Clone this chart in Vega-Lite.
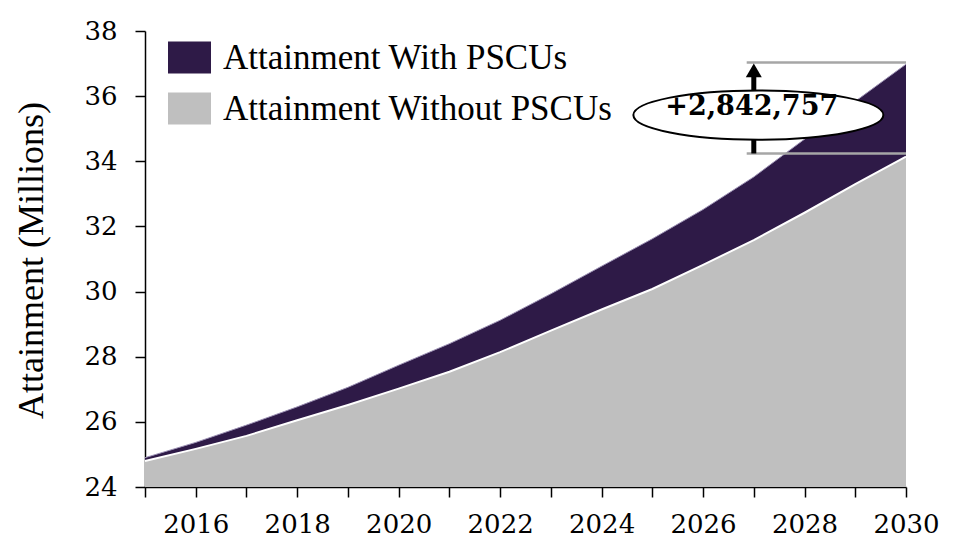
{
  "$schema": "https://vega.github.io/schema/vega-lite/v6.json",
  "width": 761,
  "height": 456,
  "autosize": "none",
  "padding": {"left": 145, "top": 31, "right": 53, "bottom": 55},
  "background": "white",
  "config": {
    "view": {"stroke": null},
    "font": "DejaVu Serif",
    "axis": {
      "grid": false,
      "domainColor": "black",
      "domainWidth": 1.5,
      "tickColor": "black",
      "tickWidth": 1.5,
      "tickSize": 10,
      "labelFont": "DejaVu Serif",
      "labelFontSize": 26,
      "labelColor": "black"
    },
    "axisX": {
      "tickCount": 15,
      "labelExpr": "datum.value % 2 == 0 ? format(datum.value, 'd') : ''",
      "labelPadding": 14,
      "labelFlush": false,
      "labelOverlap": false
    },
    "axisY": {
      "tickCount": 7,
      "labelPadding": 18,
      "titleFont": "Liberation Serif",
      "titleFontSize": 36,
      "titleFontWeight": "normal",
      "titleColor": "black",
      "titleAngle": -90,
      "titleAlign": "center",
      "titleBaseline": "alphabetic",
      "titleX": -103,
      "titleY": 229
    }
  },
  "datasets": {
    "series": [
      {"year": 2015, "with": 24.90, "without": 24.80},
      {"year": 2016, "with": 25.37, "without": 25.17},
      {"year": 2017, "with": 25.90, "without": 25.57},
      {"year": 2018, "with": 26.46, "without": 26.05},
      {"year": 2019, "with": 27.06, "without": 26.52},
      {"year": 2020, "with": 27.74, "without": 27.02},
      {"year": 2021, "with": 28.40, "without": 27.54},
      {"year": 2022, "with": 29.12, "without": 28.14},
      {"year": 2023, "with": 29.93, "without": 28.80},
      {"year": 2024, "with": 30.78, "without": 29.45},
      {"year": 2025, "with": 31.62, "without": 30.08},
      {"year": 2026, "with": 32.52, "without": 30.82},
      {"year": 2027, "with": 33.52, "without": 31.58},
      {"year": 2028, "with": 34.68, "without": 32.42},
      {"year": 2029, "with": 35.84, "without": 33.30},
      {"year": 2030, "with": 36.98, "without": 34.14}
    ],
    "bounds": [
      {"x1": 2026.86, "x2": 2030, "y": 37.03},
      {"x1": 2026.86, "x2": 2030, "y": 34.24}
    ],
    "shaft": [{"x": 2027, "y1": 34.24, "y2": 36.6}],
    "head": [{"x": 2027, "y": 36.79}],
    "bubble": [{"x": 2027.09, "y": 35.42}],
    "label": [{"x": 2026.96, "y": 35.42, "text": "+2,842,757"}]
  },
  "layer": [
    {
      "data": {"name": "series"},
      "mark": {"type": "area", "opacity": 1},
      "encoding": {
        "x": {"field": "year", "type": "quantitative", "title": null, "scale": {"domain": [2015, 2030], "nice": false, "zero": false}},
        "y": {"field": "with", "type": "quantitative", "title": "Attainment (Millions)", "scale": {"domain": [24, 38], "nice": false, "zero": false}},
        "y2": {"datum": 24},
        "color": {
          "datum": "Attainment With PSCUs",
          "type": "nominal",
          "scale": {"domain": ["Attainment With PSCUs", "Attainment Without PSCUs"], "range": ["#2e1a47", "#bfbfbf"]},
          "legend": {
            "title": null,
            "orient": "none",
            "legendX": 23,
            "legendY": 5,
            "padding": 0,
            "symbolType": "M -1 -0.744 L 1 -0.744 L 1 0.744 L -1 0.744 Z",
            "symbolSize": 1849,
            "symbolStrokeWidth": 0,
            "symbolOpacity": 1,
            "labelFont": "Liberation Serif",
            "labelFontSize": 35,
            "labelColor": "black",
            "labelOffset": 12,
            "rowPadding": 11,
            "labelLimit": 500
          }
        }
      }
    },
    {
      "data": {"name": "series"},
      "mark": {"type": "line", "color": "#9b90b3", "strokeWidth": 1},
      "encoding": {
        "x": {"field": "year", "type": "quantitative", "title": null},
        "y": {"field": "with", "type": "quantitative", "title": "Attainment (Millions)"}
      }
    },
    {
      "data": {"name": "series"},
      "mark": {"type": "area", "opacity": 1},
      "encoding": {
        "x": {"field": "year", "type": "quantitative", "title": null},
        "y": {"field": "without", "type": "quantitative", "title": "Attainment (Millions)"},
        "y2": {"datum": 24},
        "color": {"datum": "Attainment Without PSCUs", "type": "nominal"}
      }
    },
    {
      "data": {"name": "series"},
      "mark": {"type": "line", "color": "white", "strokeWidth": 2},
      "encoding": {
        "x": {"field": "year", "type": "quantitative", "title": null},
        "y": {"field": "without", "type": "quantitative", "title": "Attainment (Millions)"}
      }
    },
    {
      "data": {"name": "bounds"},
      "mark": {"type": "rule", "color": "#a6a6a6", "strokeWidth": 2.5},
      "encoding": {
        "x": {"field": "x1", "type": "quantitative", "title": null},
        "x2": {"field": "x2"},
        "y": {"field": "y", "type": "quantitative", "title": "Attainment (Millions)"}
      }
    },
    {
      "data": {"name": "shaft"},
      "mark": {"type": "rule", "color": "black", "strokeWidth": 5},
      "encoding": {
        "x": {"field": "x", "type": "quantitative", "title": null},
        "y": {"field": "y1", "type": "quantitative", "title": "Attainment (Millions)"},
        "y2": {"field": "y2"}
      }
    },
    {
      "data": {"name": "head"},
      "mark": {"type": "point", "shape": "triangle-up", "size": 256, "filled": true, "color": "black", "opacity": 1},
      "encoding": {
        "x": {"field": "x", "type": "quantitative", "title": null},
        "y": {"field": "y", "type": "quantitative", "title": "Attainment (Millions)"}
      }
    },
    {
      "data": {"name": "bubble"},
      "mark": {
        "type": "point",
        "shape": "M -1 0 C -1 -0.109 -0.5523 -0.197 0 -0.197 C 0.5523 -0.197 1 -0.109 1 0 C 1 0.109 0.5523 0.197 0 0.197 C -0.5523 0.197 -1 0.109 -1 0 Z",
        "size": 62500,
        "filled": true,
        "fill": "white",
        "stroke": "black",
        "strokeWidth": 2,
        "opacity": 1,
        "fillOpacity": 1,
        "strokeOpacity": 1
      },
      "encoding": {
        "x": {"field": "x", "type": "quantitative", "title": null},
        "y": {"field": "y", "type": "quantitative", "title": "Attainment (Millions)"}
      }
    },
    {
      "data": {"name": "label"},
      "mark": {"type": "text", "font": "DejaVu Serif", "fontWeight": "bold", "fontSize": 27, "align": "center", "baseline": "alphabetic", "color": "black"},
      "encoding": {
        "x": {"field": "x", "type": "quantitative", "title": null},
        "y": {"field": "y", "type": "quantitative", "title": "Attainment (Millions)"},
        "text": {"field": "text", "type": "nominal"}
      }
    }
  ]
}
